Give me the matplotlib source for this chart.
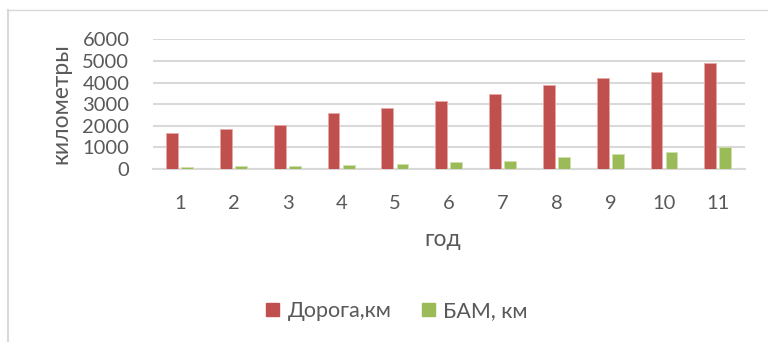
import matplotlib
matplotlib.use("Agg")
import matplotlib.pyplot as plt
import numpy as np
from matplotlib.lines import Line2D

plt.rcParams['font.family'] = ['Lato', 'DejaVu Sans']

years = ['1', '2', '3', '4', '5', '6', '7', '8', '9', '10', '11']
road_km = [1650, 1860, 2050, 2590, 2840, 3150, 3470, 3870, 4210, 4490, 4910]
bam_km = [110, 140, 155, 200, 230, 320, 385, 570, 680, 800, 1000]
series_names = ['Дорога,км', 'БАМ, км']
yticks = [0, 1000, 2000, 3000, 4000, 5000, 6000]

red = '#c0504d'
green = '#9bbb59'
gray_text = '#595959'
grid = '#d9d9d9'

fig = plt.figure(figsize=(7.68, 3.42), dpi=100)
ax = fig.add_axes([153/768, 1-169/342, (745-153)/768, (169-39.3)/342])

x = np.arange(len(years))
w = 0.22
ax.bar(x - 0.145, road_km, width=w, color=red, edgecolor='#e8a9a7', linewidth=0.6, label=series_names[0], zorder=3)
ax.bar(x + 0.135, bam_km, width=w, color=green, edgecolor='#cfe0ac', linewidth=0.6, label=series_names[1], zorder=3)

ax.set_xlim(-0.5, len(years) - 0.5)
ax.set_ylim(0, 6000)
ax.set_yticks(yticks)
ax.set_xticks(x)
ax.set_xticklabels(years)
ax.yaxis.grid(True, color=grid, linewidth=1.5, zorder=0)
for s in ['top', 'right', 'left']:
    ax.spines[s].set_visible(False)
ax.spines['bottom'].set_color(grid)
ax.spines['bottom'].set_linewidth(1.5)
ax.tick_params(axis='both', length=0, labelsize=14.5, colors=gray_text)
ax.tick_params(axis='y', pad=17)
ax.tick_params(axis='x', pad=19)

fig.text(61/768, 1-104/342, 'километры', rotation=90, ha='center', va='center', fontsize=16.5, color=gray_text)
fig.text(443/768, 1-240/342, 'год', ha='center', va='center', fontsize=16.5, color=gray_text)

handles = [plt.Rectangle((0, 0), 1, 1, color=red), plt.Rectangle((0, 0), 1, 1, color=green)]
fig.legend(handles, series_names, loc='center', bbox_to_anchor=(397/768, 1-311/342), ncol=2,
           frameon=False, fontsize=15.5, labelcolor=gray_text, handlelength=0.6, handleheight=0.6,
           handletextpad=0.4, columnspacing=1.4)

# chart frame
fig.add_artist(Line2D([8/768, 8/768], [0, 1-10/342], color=grid, linewidth=1.5))
fig.add_artist(Line2D([8/768, 1], [1-10/342, 1-10/342], color=grid, linewidth=1.0))

fig.savefig('out.png', dpi=100)
